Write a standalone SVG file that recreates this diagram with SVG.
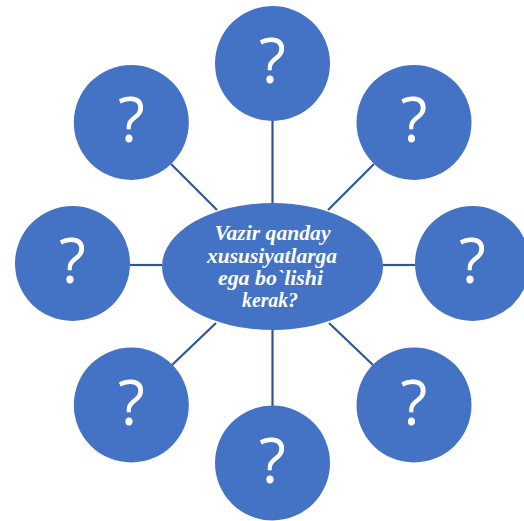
<svg xmlns="http://www.w3.org/2000/svg" width="524" height="521" viewBox="0 0 524 521">
<style>
.n{fill:#4472C4}
.q{fill:#fff;font-family:"Open Sans","DejaVu Sans",sans-serif;font-weight:400;font-size:62px;text-anchor:middle}
.c line{stroke:#2F5597;stroke-width:2.2}
.t{fill:#fff;font-family:"Liberation Serif","Times New Roman",serif;font-weight:bold;font-style:italic;font-size:22px;text-anchor:middle}
</style>
<rect width="524" height="521" fill="#fff"/>
<g class="c" id="connectors">
<line x1="272.5" y1="121" x2="272.5" y2="203"/>
<line x1="272.5" y1="330" x2="272.5" y2="406"/>
<line x1="130" y1="265" x2="162" y2="265"/>
<line x1="383" y1="265" x2="415" y2="265"/>
<line x1="171" y1="164" x2="217" y2="210"/>
<line x1="374" y1="164" x2="328" y2="210"/>
<line x1="216" y1="323" x2="172" y2="365"/>
<line x1="329" y1="323" x2="373" y2="365"/>
</g>
<g id="n-top"><circle class="n" cx="272.5" cy="63.5" r="57.5"/><text class="q" x="272.5" y="83">?</text></g>
<g id="n-tr"><circle class="n" cx="414" cy="122.5" r="57.5"/><text class="q" x="414" y="142">?</text></g>
<g id="n-right"><circle class="n" cx="472.5" cy="263.5" r="57.5"/><text class="q" x="472.5" y="283">?</text></g>
<g id="n-br"><circle class="n" cx="414" cy="405" r="57.5"/><text class="q" x="414" y="424.5">?</text></g>
<g id="n-bottom"><circle class="n" cx="272.5" cy="463" r="57.5"/><text class="q" x="272.5" y="482.5">?</text></g>
<g id="n-bl"><circle class="n" cx="131.3" cy="405" r="57.5"/><text class="q" x="131.3" y="424.5">?</text></g>
<g id="n-left"><circle class="n" cx="72.5" cy="263.5" r="57.5"/><text class="q" x="72.5" y="283">?</text></g>
<g id="n-tl"><circle class="n" cx="131.3" cy="122.5" r="57.5"/><text class="q" x="131.3" y="142">?</text></g>
<g id="center">
<ellipse class="n" cx="272.5" cy="266.5" rx="110.5" ry="63.5"/>
<text class="t" x="272.5" y="240" textLength="116" lengthAdjust="spacingAndGlyphs">Vazir qanday</text>
<text class="t" x="272" y="262.5" textLength="130" lengthAdjust="spacingAndGlyphs">xususiyatlarga</text>
<text class="t" x="270.5" y="284.5" textLength="105" lengthAdjust="spacingAndGlyphs">ega bo`lishi</text>
<text class="t" x="270" y="306.5" textLength="56" lengthAdjust="spacingAndGlyphs">kerak?</text>
</g>
</svg>
